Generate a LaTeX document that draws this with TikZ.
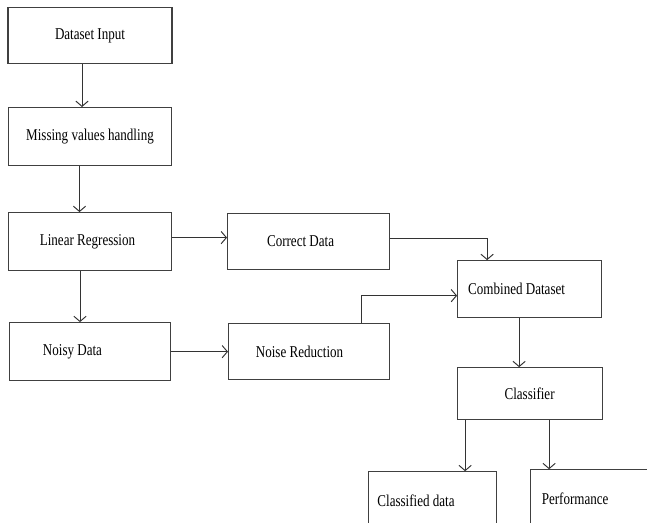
\documentclass[tikz,border=0pt]{standalone}
\usepackage{fontspec}
\setmainfont{Liberation Serif}[FakeStretch=0.79]
\usetikzlibrary{arrows.meta, positioning}

\begin{document}
\begin{tikzpicture}[
        every node/.style={font=\fontsize{9.4}{11}\selectfont},
        stage/.style={draw=black!75, line width=0.6pt, minimum width=3.26cm, minimum height=1.16cm, align=center},
        arr/.style={-{Straight Barb[length=3pt, width=7pt]}, draw=black!80, line width=0.55pt},
    ]

    %% ===== Frame =====
    \useasboundingbox (-1.8,0.71) rectangle (11.14,-9.75);
    \clip (-1.8,0.71) rectangle (11.14,-9.75);

    %% ===== Preprocessing column =====
    \node[stage, minimum width=3.28cm, minimum height=1.12cm] (inp) at (0,0) {Dataset Input};
    \node[stage, below=0.86cm of inp] (miss) {Missing values handling};
    \node[stage, below=0.92cm of miss] (linreg) {Linear Regression\hspace*{0.1cm}};
    \node[stage, minimum width=3.22cm, below=1.02cm of linreg] (noisy) {Noisy Data\hspace*{0.7cm}};

    \draw[arr] ([xshift=-0.16cm]inp.south) -- ([xshift=-0.16cm]miss.north);
    \draw[arr] ([xshift=-0.21cm]miss.south) -- ([xshift=-0.21cm]linreg.north);
    \draw[arr] ([xshift=-0.2cm]linreg.south) -- ([xshift=-0.2cm]noisy.north);

    %% ===== Correct / noisy branches =====
    \node[stage, minimum width=3.24cm, minimum height=1.12cm, right=1.1cm of linreg] (correct) {Correct Data\hspace*{0.32cm}};
    \node[stage, minimum width=3.22cm, minimum height=1.12cm, right=1.14cm of noisy] (noisered) {Noise Reduction\hspace*{0.38cm}};

    \draw[arr] ([yshift=0.08cm]linreg.east) -- ([yshift=0.08cm]correct.west);
    \draw[arr] (noisy) -- (noisered);

    %% ===== Merge and classify =====
    \node[stage, minimum width=2.88cm, minimum height=1.14cm, below right=-0.2cm and 1.34cm of correct] (combined) {Combined Dataset\hspace*{0.52cm}};
    \node[stage, minimum width=2.9cm, minimum height=1.04cm, below=0.98cm of combined] (classifier) {Classifier};

    \draw[arr] ([yshift=0.06cm]correct.east) -| ([xshift=-0.85cm]combined.north);
    \draw[arr] ([xshift=1.04cm]noisered.north) |- ([yshift=-0.13cm]combined.west);
    \draw[arr] ([xshift=-0.21cm]combined.south) -- ([xshift=-0.21cm]classifier.north);

    %% ===== Outputs =====
    \node[stage, minimum width=2.56cm, below left=1.02cm and -0.8cm of classifier] (classified) {Classified data\hspace*{0.64cm}};
    \node[stage, minimum width=2.9cm, below right=0.98cm and -1.46cm of classifier] (perf) {Performance\hspace*{1.1cm}};

    \draw[arr] ([xshift=-1.29cm]classifier.south) -- ([xshift=-1.29cm]classifier.south |- classified.north);
    \draw[arr] ([xshift=0.39cm]classifier.south) -- ([xshift=0.39cm]classifier.south |- perf.north);

\end{tikzpicture}
\end{document}
